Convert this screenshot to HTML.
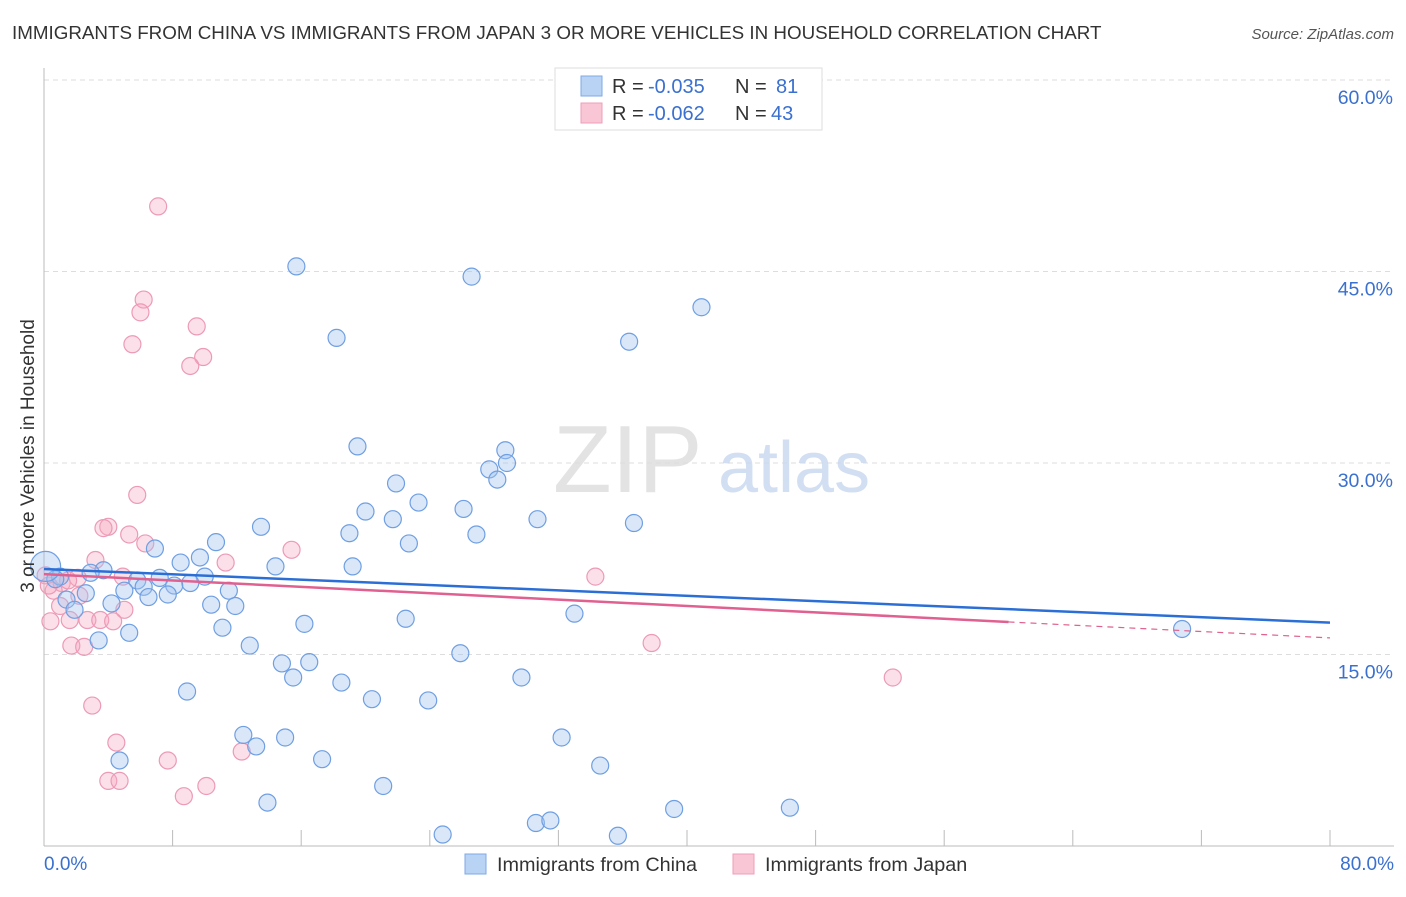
<!DOCTYPE html>
<html><head><meta charset="utf-8"><style>
body{margin:0;background:#fff;font-family:"Liberation Sans",sans-serif;}
svg text{font-family:"Liberation Sans",sans-serif;}
</style></head><body>
<svg width="1406" height="892" viewBox="0 0 1406 892" xmlns="http://www.w3.org/2000/svg">
<text x="12" y="39" font-size="18.8" fill="#333">IMMIGRANTS FROM CHINA VS IMMIGRANTS FROM JAPAN 3 OR MORE VEHICLES IN HOUSEHOLD CORRELATION CHART</text>
<text x="1394" y="39" font-size="15" fill="#555" font-style="italic" text-anchor="end">Source: ZipAtlas.com</text>
<g id="grid"></g>
<text x="553" y="492" font-size="96" fill="#ddd" font-family="Liberation Serif" opacity="0.8">ZIP</text>
<text x="718" y="492" font-size="72" fill="#c8d8f0" opacity="0.8">atlas</text>
<g id="points"></g>
<g id="trends"></g>
<text transform="translate(34,456) rotate(-90)" font-size="19" fill="#333" text-anchor="middle">3 or more Vehicles in Household</text>
<g>
<rect x="555" y="68" width="267" height="62" fill="#fff" stroke="#ddd"/>
<rect x="581" y="76" width="21" height="20" fill="#b9d3f5" stroke="#7eaae6"/>
<rect x="581" y="103" width="21" height="20" fill="#f9c6d6" stroke="#ef9fb9"/>
<text x="612" y="93" font-size="20" fill="#333">R = </text>
<text x="648" y="93" font-size="20" fill="#3a70cf">-0.035</text>
<text x="735" y="93" font-size="20" fill="#333">N = </text>
<text x="776" y="93" font-size="20" fill="#3a70cf">81</text>
<text x="612" y="120" font-size="20" fill="#333">R = </text>
<text x="648" y="120" font-size="20" fill="#3a70cf">-0.062</text>
<text x="735" y="120" font-size="20" fill="#333">N = </text>
<text x="771" y="120" font-size="20" fill="#3a70cf">43</text>
</g>
<g>
<rect x="465" y="854" width="21" height="20" fill="#b9d3f5" stroke="#7eaae6"/>
<text x="497" y="871" font-size="19.8" fill="#333">Immigrants from China</text>
<rect x="733" y="854" width="21" height="20" fill="#f9c6d6" stroke="#ef9fb9"/>
<text x="765" y="871" font-size="19.8" fill="#333">Immigrants from Japan</text>
</g>
</svg>
<script>
const yTicks=[15,30,45,60];
const yTickLabels=["15.0%","30.0%","45.0%","60.0%"];
const xTicks=[0,8,16,24,32,40,48,56,64,72,80];
const chinaX=[15.7,26.6,40.9,36.4,18.2,19.5,28.7,27.7,28.8,28.2,21.9,23.3,20.0,26.1,21.7,30.7,36.7,13.5,19.0,26.9,22.7,10.7,6.9,9.7,8.5,19.2,14.4,3.7,2.9,1.0,0.7,7.2,5.8,10.0,9.1,8.1,6.2,11.5,5.0,2.6,6.5,7.7,1.4,4.2,10.4,11.9,1.9,33.0,22.5,16.2,11.1,5.3,3.4,70.8,12.8,25.9,14.8,16.5,15.5,29.7,18.5,8.9,20.4,23.9,12.4,15.0,32.2,13.2,17.3,4.7,34.6,21.1,13.9,39.2,46.4,30.6,31.5,24.8,35.7,0.1];
const chinaY=[45.4,44.6,42.2,39.5,39.8,31.3,31.0,29.5,30.0,28.7,28.4,26.9,26.2,26.4,25.6,25.6,25.3,25.0,24.5,24.4,23.7,23.8,23.3,22.6,22.2,21.9,21.9,21.6,21.4,21.1,20.9,21.0,20.8,21.1,20.6,20.4,20.3,20.0,20.0,19.8,19.5,19.7,19.3,19.0,18.9,18.8,18.5,18.2,17.8,17.4,17.1,16.7,16.1,17.0,15.7,15.1,14.3,14.4,13.2,13.2,12.8,12.1,11.5,11.4,8.7,8.5,8.5,7.8,6.8,6.7,6.3,4.7,3.4,2.9,3.0,1.8,2.0,0.9,0.8,21.9];
const japanX=[7.1,6.2,6.0,9.5,5.5,9.9,9.1,5.8,4.0,3.7,5.3,6.3,15.4,3.2,11.3,34.3,4.9,2.1,0.1,1.1,0.6,1.0,5.0,1.6,2.7,3.5,4.3,0.4,1.7,2.5,37.8,52.8,3.0,4.5,12.3,7.7,4.0,4.7,10.1,8.7,0.3,1.5,2.2];
const japanY=[50.1,42.8,41.8,40.7,39.3,38.3,37.6,27.5,25.0,24.9,24.4,23.7,23.2,22.4,22.2,21.1,21.1,21.0,21.2,20.6,20.0,18.8,18.5,17.7,17.7,17.7,17.6,17.6,15.7,15.6,15.9,13.2,11.0,8.1,7.4,6.7,5.1,5.1,4.7,3.9,20.4,20.8,19.6];
const chinaTrend=[21.7,17.5];
const japanTrend=[21.3,16.3];
const japanSolidEnd=60;
const NS="http://www.w3.org/2000/svg";
const xs=v=>44+v/80*1286;
const ys=v=>846-v/60*766;
function mk(tag,attrs,parent){const e=document.createElementNS(NS,tag);for(const k in attrs)e.setAttribute(k,attrs[k]);parent.appendChild(e);return e;}
const grid=document.getElementById('grid');
yTicks.forEach((t,i)=>{
 const l=mk('line',{x1:44,x2:1394,y1:ys(t),y2:ys(t),stroke:'#ddd','stroke-dasharray':'5,4'},grid);
 
 
 const tx=mk('text',{x:1393,y:ys(t)+24,'font-size':19.5,fill:'#3a70cf','text-anchor':'end'},grid);
 tx.textContent=yTickLabels[i];
 
 
});
const ax=mk('line',{x1:44,x2:44,y1:68,y2:846,stroke:'#bbb'},grid);


const bx=mk('line',{x1:44,x2:1394,y1:846,y2:846,stroke:'#bbb'},grid);


xTicks.forEach(t=>{
 const l=mk('line',{x1:xs(t),x2:xs(t),y1:830,y2:846,stroke:'#bbb'},grid);
 
 
});
const x0=mk('text',{x:44,y:870,'font-size':19,fill:'#3a70cf'},grid);x0.textContent='0.0%';


const x1=mk('text',{x:1394,y:870,'font-size':19,fill:'#3a70cf','text-anchor':'end'},grid);x1.textContent='80.0%';


const pts=document.getElementById('points');
japanX.forEach((x,i)=>{
 const c=mk('circle',{cx:xs(x),cy:ys(japanY[i]),r:8.5,fill:'rgba(245,165,192,0.35)',stroke:'#ec9ab6','stroke-width':1.2},pts);
 
 
});
chinaX.forEach((x,i)=>{
 const big=i===chinaX.length-1;
 const c=mk('circle',{cx:xs(x),cy:ys(chinaY[i]),r:big?15:8.5,fill:'rgba(160,195,240,0.4)',stroke:'#6f9fe2','stroke-width':1.2},pts);
 
 
});
const tr=document.getElementById('trends');
const cl=mk('line',{x1:xs(0),y1:ys(chinaTrend[0]),x2:xs(80),y2:ys(chinaTrend[1]),stroke:'#2b6fd6','stroke-width':2.5},tr);


const jy=v=>japanTrend[0]+(japanTrend[1]-japanTrend[0])*v/80;
const jl=mk('line',{x1:xs(0),y1:ys(jy(0)),x2:xs(japanSolidEnd),y2:ys(jy(japanSolidEnd)),stroke:'#e0608f','stroke-width':2.5},tr);


const jd=mk('line',{x1:xs(japanSolidEnd),y1:ys(jy(japanSolidEnd)),x2:xs(80),y2:ys(jy(80)),stroke:'#e0608f','stroke-width':1.2,'stroke-dasharray':'6,5'},tr);


</script>
</body></html>
